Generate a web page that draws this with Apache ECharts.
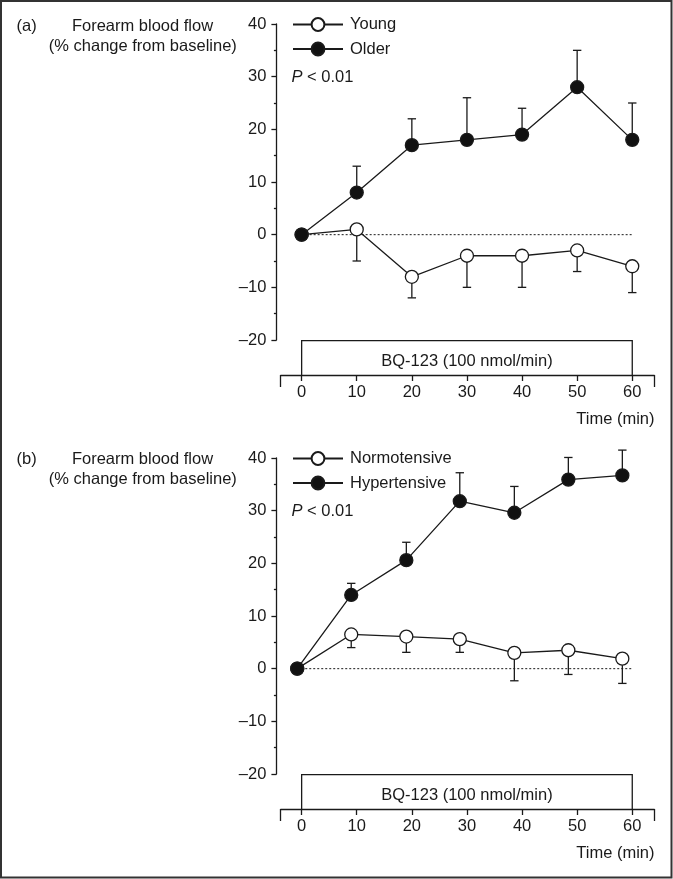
<!DOCTYPE html>
<html>
<head>
<meta charset="utf-8">
<script src="https://cdn.jsdelivr.net/npm/echarts@6/dist/echarts.min.js"></script>
<style>
html,body{margin:0;padding:0;background:#fff;}
#c{width:673px;height:879px;}
</style>
</head>
<body>
<div id="c"></div>
<script>
// ---------- data ----------
const timeTicks = [0, 10, 20, 30, 40, 50, 60];
const yTicks = [-20, -10, 0, 10, 20, 30, 40];

// Panel (a)
const timeA = [0, 10, 20, 30, 40, 50, 60];
const youngMean = [0, 1, -8, -4, -4, -3, -6];
const youngErrEnd = [null, -5, -12, -10, -10, -7, -11];
const olderMean = [0, 8, 17, 18, 19, 28, 18];
const olderErrEnd = [null, 13, 22, 26, 24, 35, 25];

// Panel (b)
const timeB = [-0.8, 9, 19, 28.7, 38.6, 48.4, 58.2];
const normoMean = [0, 6.5, 6.1, 5.6, 3.0, 3.5, 1.9];
const normoErrEnd = [null, 4.0, 3.1, 3.1, -2.3, -1.1, -2.8];
const hyperMean = [0, 14.0, 20.6, 31.8, 29.6, 35.9, 36.7];
const hyperErrEnd = [null, 16.2, 24.0, 37.2, 34.6, 40.1, 41.5];

const infusionA = [0, 60];
const infusionB = [0, 60];
const zeroLineA = [0, 60];
const zeroLineB = [-0.8, 60];

// ---------- style ----------
const INK = '#1a1a1a';
const FONT = '"Liberation Sans", Arial, Helvetica, sans-serif';
const FS = 16.5;
const LW = 1.3;
const X_OFFSET = 35;
const XMIN = -3.8, XMAX = 64;

function pairs(xs, ys) { return xs.map((x, i) => [x, ys[i]]); }
function errData(xs, ys, es) {
  const out = [];
  xs.forEach((x, i) => { if (es[i] !== null) out.push([x, ys[i], es[i]]); });
  return out;
}
function errRender(params, api) {
  const x = api.value(0), y = api.value(1), e = api.value(2);
  const p0 = api.coord([x, y]), p1 = api.coord([x, e]);
  return {
    type: 'group',
    children: [
      {type: 'line', shape: {x1: p0[0], y1: p0[1], x2: p1[0], y2: p1[1]}, style: {stroke: INK, lineWidth: LW}},
      {type: 'line', shape: {x1: p1[0] - 4.2, y1: p1[1], x2: p1[0] + 4.2, y2: p1[1]}, style: {stroke: INK, lineWidth: LW}}
    ]
  };
}
function boxRender(params, api) {
  const a = api.coord([api.value(0), -20]);
  const b = api.coord([api.value(1), -20]);
  const axisY = a[1] + X_OFFSET;
  const top = a[1] + 0.7;
  return {
    type: 'group',
    children: [
      {type: 'polyline', shape: {points: [[a[0], axisY], [a[0], top], [b[0], top], [b[0], axisY]]},
       style: {stroke: INK, lineWidth: LW, fill: 'none'}},
      {type: 'text', style: {x: (a[0] + b[0]) / 2, y: axisY - 13.5, text: 'BQ-123 (100 nmol/min)',
        fill: INK, font: FS + 'px ' + FONT, textAlign: 'center', textVerticalAlign: 'middle'}}
    ]
  };
}

function grids() {
  return [
    {left: 280.7, right: 18.7, top: 24, height: 316},
    {left: 280.7, right: 18.7, top: 458, height: 316}
  ];
}
function xAxes(gi) {
  return [
    {type: 'value', gridIndex: gi, position: 'bottom', offset: X_OFFSET, min: XMIN, max: XMAX,
     axisLine: {show: true, onZero: false, lineStyle: {color: INK, width: LW}},
     axisTick: {show: true, customValues: timeTicks, length: 6, lineStyle: {color: INK, width: LW}},
     axisLabel: {show: true, customValues: timeTicks, margin: 9, color: INK, fontSize: FS, fontFamily: FONT},
     splitLine: {show: false}},
    {type: 'value', gridIndex: gi, position: 'bottom', offset: X_OFFSET, min: XMIN, max: XMAX,
     axisLine: {show: false, onZero: false},
     axisTick: {show: true, customValues: [XMIN, XMAX], length: 12, lineStyle: {color: INK, width: LW}},
     axisLabel: {show: false},
     splitLine: {show: false}}
  ];
}
function yAxis(gi) {
  return {type: 'value', gridIndex: gi, min: -20, max: 40, interval: 10, offset: 4.3,
    axisLine: {show: true, onZero: false, lineStyle: {color: INK, width: LW}},
    axisTick: {show: true, length: 5, lineStyle: {color: INK, width: LW}},
    minorTick: {show: true, splitNumber: 2, length: 2.5, lineStyle: {color: INK, width: LW}},
    axisLabel: {margin: 10, color: INK, fontSize: FS, fontFamily: FONT,
      formatter: v => (v < 0 ? '\u2013' + Math.abs(v) : String(v))},
    splitLine: {show: false}, minorSplitLine: {show: false}};
}

function lineSeries(name, xi, yi, xs, ys, filled) {
  return {type: 'line', name: name, xAxisIndex: xi, yAxisIndex: yi, data: pairs(xs, ys),
    symbol: 'circle', symbolSize: 13, z: 5,
    lineStyle: {color: INK, width: LW},
    itemStyle: {color: filled ? '#111' : '#fff', borderColor: INK, borderWidth: LW},
    emphasis: {disabled: true}, animation: false};
}
function errSeries(xi, yi, xs, ys, es) {
  return {type: 'custom', xAxisIndex: xi, yAxisIndex: yi, data: errData(xs, ys, es),
    encode: {x: 0, y: [1, 2]}, renderItem: errRender, z: 3, silent: true, animation: false};
}
function zeroSeries(xi, yi, xs) {
  return {type: 'line', xAxisIndex: xi, yAxisIndex: yi, data: xs.map(x => [x, 0]), symbol: 'none',
    lineStyle: {color: INK, width: 1, type: [2, 2]}, z: 1, silent: true, animation: false};
}
function boxSeries(xi, yi, span) {
  return {type: 'custom', xAxisIndex: xi, yAxisIndex: yi, data: [span], encode: {x: [0, 1]},
    renderItem: boxRender, z: 2, silent: true, clip: false, animation: false};
}
function legend(names, top) {
  return {orient: 'vertical', left: 292, top: top, padding: 0, itemWidth: 50, itemHeight: 16, itemGap: 7.5,
    data: names, selectedMode: false,
    textStyle: {color: INK, fontSize: FS, fontFamily: FONT, padding: [0, 0, 0, 2]}};
}

function txt(x, y, t, align) {
  return {type: 'text', x: x, y: y, style: {text: t, fill: INK, font: FS + 'px ' + FONT,
    textAlign: align || 'left', textVerticalAlign: 'middle'}};
}
function pText(x, y) {
  return {type: 'text', x: x, y: y, style: {text: '{i|P} < 0.01', fill: INK, font: FS + 'px ' + FONT,
    textAlign: 'left', textVerticalAlign: 'middle',
    rich: {i: {fontStyle: 'italic', fontSize: FS, fontFamily: FONT, fill: INK}}}};
}

const chart = echarts.init(document.getElementById('c'), null, {renderer: 'canvas'});
chart.setOption({
  backgroundColor: '#fff',
  animation: false,
  grid: grids(),
  xAxis: xAxes(0).concat(xAxes(1)),
  yAxis: [yAxis(0), yAxis(1)],
  legend: [legend(['Young', 'Older'], 16), legend(['Normotensive', 'Hypertensive'], 450)],
  series: [
    zeroSeries(0, 0, zeroLineA),
    boxSeries(0, 0, infusionA),
    errSeries(0, 0, timeA, youngMean, youngErrEnd),
    errSeries(0, 0, timeA, olderMean, olderErrEnd),
    lineSeries('Young', 0, 0, timeA, youngMean, false),
    lineSeries('Older', 0, 0, timeA, olderMean, true),
    zeroSeries(2, 1, zeroLineB),
    boxSeries(2, 1, infusionB),
    errSeries(2, 1, timeB, normoMean, normoErrEnd),
    errSeries(2, 1, timeB, hyperMean, hyperErrEnd),
    lineSeries('Normotensive', 2, 1, timeB, normoMean, false),
    lineSeries('Hypertensive', 2, 1, timeB, hyperMean, true)
  ],
  graphic: [
    {type: 'rect', shape: {x: 1, y: 1, width: 670.5, height: 876.5}, style: {fill: 'none', stroke: '#333', lineWidth: 2}},
    txt(16.5, 26, '(a)'),
    txt(142.5, 26, 'Forearm blood flow', 'center'),
    txt(142.8, 46.7, '(% change from baseline)', 'center'),
    pText(291.5, 77.3),
    txt(654.5, 419, 'Time (min)', 'right'),
    txt(16.5, 459, '(b)'),
    txt(142.5, 459, 'Forearm blood flow', 'center'),
    txt(142.8, 479.5, '(% change from baseline)', 'center'),
    pText(291.5, 511),
    txt(654.5, 853, 'Time (min)', 'right')
  ]
});
</script>
</body>
</html>
